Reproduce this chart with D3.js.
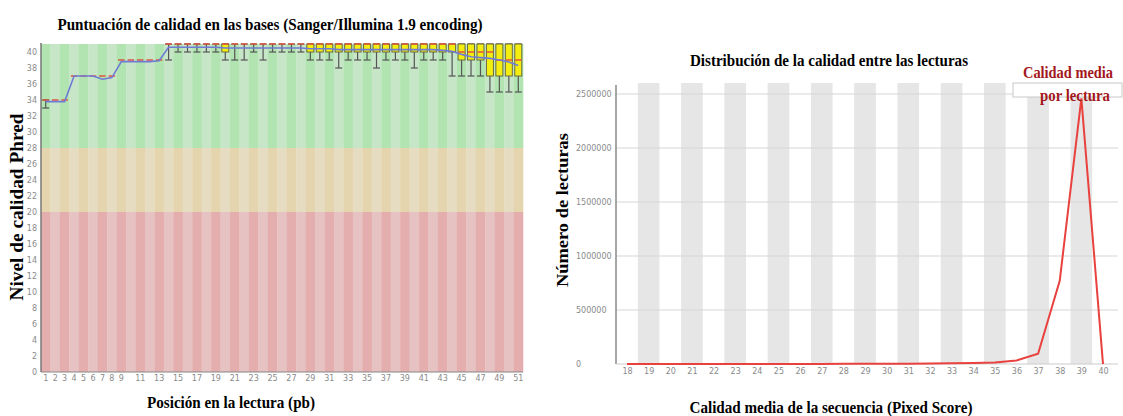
<!DOCTYPE html>
<html>
<head>
<meta charset="utf-8">
<script src="https://cdn.jsdelivr.net/npm/d3@7"></script>
<style>
  body { margin: 0; background: #fff; }
  svg { display: block; }
</style>
</head>
<body>
<svg id="chart" width="1123" height="416"></svg>
<script>
// ---------- Per-base quality (left panel) ----------
const positions = [1,2,3,4,5,6,7,8,9,10,11,12,13,14,15,16,17,18,19,20,21,22,23,24,25,26,
  27,28,29,30,31,32,33,34,35,36,37,38,39,40,41,42,43,44,45,46,47,48,49,50,51];
const positionTicks = [1,2,3,4,5,6,7,8,9,11,13,15,17,19,21,23,25,27,29,31,33,35,37,39,41,43,45,47,49,51];

const meanQ = [33.8,33.8,33.8,37.0,37.0,37.0,36.6,36.8,38.8,38.8,38.8,38.8,38.9,
  40.6,40.6,40.6,40.6,40.6,40.6,
  40.5,40.5,40.5,40.5,40.5,40.5,40.5,40.5,40.5,
  40.4,40.4,40.4,
  40.3,40.3,40.3,40.3,40.3,40.3,40.3,40.3,40.3,40.3,40.3,
  40.2,40.1,39.7,39.4,39.3,39.2,39.0,38.75,38.3];
const medianQ = [34,34,34,37,37,37,37,37,39,39,39,39,39,
  41,41,41,41,41,41,41,41,41,41,41,41,41,41,41,41,41,41,41,41,41,41,41,41,41,41,41,41,41,41,41,
  40,40,40,40,39,39,39];
const lowerQ = [34,34,34,37,37,37,37,37,39,39,39,39,39,
  41,41,41,41,41,41,40,41,41,41,41,41,41,41,41,
  40,40,40,40,40,40,40,40,40,40,40,40,40,40,40,40,
  39,39,39,37,37,37,37];
const upperQ = [34,34,34,37,37,37,37,37,39,39,39,39,39,
  41,41,41,41,41,41,41,41,41,41,41,41,41,41,41,41,41,41,41,41,41,41,41,41,41,41,41,41,41,41,41,
  41,41,41,41,41,41,41];
const p10 = [33,34,34,37,37,37,37,37,39,39,39,39,39,
  39,40,40,40,40,40,39,39,39,40,39,40,40,40,40,
  39,39,39,38,39,39,39,38,39,39,39,38,39,39,39,
  37,37,37,37,35,35,35,35];
const p90 = [34,34,34,37,37,37,37,37,39,39,39,39,39,
  41,41,41,41,41,41,41,41,41,41,41,41,41,41,41,41,41,41,41,41,41,41,41,41,41,41,41,41,41,41,41,
  41,41,41,41,41,41,41];
const phredTicks = [0,2,4,6,8,10,12,14,16,18,20,22,24,26,28,30,32,34,36,38,40];
const zoneBounds = [[28, 41], [20, 28], [0, 20]];
const zoneColors = [["#b1e4b1", "#c7e6c7"], ["#e5d5ae", "#e6dcc2"], ["#e5aeae", "#e6c2c2"]];

// ---------- Per-sequence quality (right panel) ----------
const qualities = [18,19,20,21,22,23,24,25,26,27,28,29,30,31,32,33,34,35,36,37,38,39,40];
const readCounts = [0,0,0,0,100,200,300,500,700,1000,1300,1800,2400,3200,4500,6000,8500,
  14000,32000,95000,770000,2460000,0];
const countTicks = [0,500000,1000000,1500000,2000000,2500000];

const svg = d3.select("#chart");
const serif = "'Liberation Serif', 'Times New Roman', serif";
const tickFont = "'DejaVu Sans', sans-serif";

function boldText(x, y, txt, size, width, color, rotate) {
  const t = svg.append("text")
    .attr("x", x).attr("y", y)
    .attr("text-anchor", "middle")
    .attr("font-family", serif)
    .attr("font-weight", "bold")
    .attr("font-size", size)
    .attr("fill", color || "#000")
    .attr("textLength", width)
    .attr("lengthAdjust", "spacingAndGlyphs")
    .text(txt);
  if (rotate) t.attr("transform", `rotate(-90 ${x} ${y})`);
  return t;
}

// ===== Left panel =====
const L = { left: 41, right: 523, top: 44, bottom: 372 };
const xL = d3.scaleBand().domain(positions).range([L.left, L.right]).padding(0);
const yL = d3.scaleLinear().domain([0, 41]).range([L.bottom, L.top]);
const gL = svg.append("g");

// quality zones, striped per position
zoneBounds.forEach((b, zi) => {
  gL.selectAll(null).data(positions).enter().append("rect")
    .attr("x", d => xL(d))
    .attr("width", xL.bandwidth() + 0.3)
    .attr("y", yL(b[1]))
    .attr("height", yL(b[0]) - yL(b[1]))
    .attr("fill", (d, i) => zoneColors[zi][i % 2]);
});

const bw = 7;
const cx = d => xL(d) + xL.bandwidth() / 2;
const rows = positions.map((p, i) => ({ p, mean: meanQ[i], med: medianQ[i], lo: lowerQ[i], hi: upperQ[i], p10: p10[i], p90: p90[i] }));

// whiskers
const wk = gL.append("g").attr("stroke", "#555").attr("stroke-width", 1.2);
rows.filter(r => r.p10 < r.lo).forEach(r => {
  wk.append("line").attr("x1", cx(r.p)).attr("x2", cx(r.p)).attr("y1", yL(r.lo)).attr("y2", yL(r.p10));
  wk.append("line").attr("x1", cx(r.p) - bw / 2).attr("x2", cx(r.p) + bw / 2).attr("y1", yL(r.p10)).attr("y2", yL(r.p10));
});
rows.filter(r => r.p10 < r.p90).forEach(r => {
  wk.append("line").attr("x1", cx(r.p) - bw / 2).attr("x2", cx(r.p) + bw / 2).attr("y1", yL(r.p90)).attr("y2", yL(r.p90));
  wk.append("line").attr("x1", cx(r.p)).attr("x2", cx(r.p)).attr("y1", yL(r.p90)).attr("y2", yL(r.hi));
});

// boxes (inter-quartile range)
gL.selectAll(null).data(rows.filter(r => r.hi > r.lo)).enter().append("rect")
  .attr("x", d => cx(d.p) - bw / 2).attr("width", bw)
  .attr("y", d => yL(d.hi)).attr("height", d => yL(d.lo) - yL(d.hi))
  .attr("fill", "#f4ee10").attr("stroke", "#6a6a40").attr("stroke-width", 1);

// medians
gL.selectAll(null).data(rows).enter().append("line")
  .attr("x1", d => xL(d.p) + 1.5).attr("x2", d => xL(d.p) + xL.bandwidth() - 1.5)
  .attr("y1", d => yL(d.med)).attr("y2", d => yL(d.med))
  .attr("stroke", "#e0553f").attr("stroke-width", 1.5);

// mean line
gL.append("path").datum(rows)
  .attr("d", d3.line().x(d => cx(d.p)).y(d => yL(d.mean)))
  .attr("fill", "none").attr("stroke", "#6f7bd6").attr("stroke-width", 1.6);

// axes
const axL = gL.append("g").attr("transform", `translate(${L.left},0)`)
  .call(d3.axisLeft(yL).tickValues(phredTicks).tickSize(0).tickPadding(4));
axL.select(".domain").remove();
const axB = gL.append("g").attr("transform", `translate(0,${L.bottom})`)
  .call(d3.axisBottom(xL).tickValues(positionTicks).tickSize(0).tickPadding(3));
axB.select(".domain").remove();
[axL, axB].forEach(a => a.selectAll("text").attr("font-family", tickFont).attr("font-size", 8).attr("fill", "#8a8a8a"));
gL.append("line").attr("x1", L.left).attr("x2", L.left).attr("y1", L.top - 1).attr("y2", L.bottom)
  .attr("stroke", "#777").attr("stroke-width", 1.5);
gL.append("line").attr("x1", L.left).attr("x2", L.right).attr("y1", L.bottom).attr("y2", L.bottom)
  .attr("stroke", "#888").attr("stroke-width", 1);

boldText(270, 30, "Puntuación de calidad en las bases (Sanger/Illumina 1.9 encoding)", 17, 425);
boldText(231, 408, "Posición en la lectura (pb)", 17, 168);
boldText(23, 207, "Nivel de calidad Phred", 18, 187, "#000", true);

// ===== Right panel =====
const R = { left: 616, right: 1118, top: 83, bottom: 364 };
const xR = d3.scalePoint().domain(qualities).range([627, 1103]);
const step = xR.step();
const yR = d3.scaleLinear().domain([0, 2500000]).range([R.bottom, 94]);
const gR = svg.append("g");

// alternating shaded columns
gR.selectAll(null).data(qualities.filter(q => q % 2 === 1)).enter().append("rect")
  .attr("x", d => xR(d) - step / 2).attr("width", step)
  .attr("y", R.top).attr("height", R.bottom - R.top)
  .attr("fill", "#e6e6e6");

// gridlines
gR.selectAll(null).data(countTicks.filter(t => t > 0)).enter().append("line")
  .attr("x1", R.left).attr("x2", R.right)
  .attr("y1", d => yR(d)).attr("y2", d => yR(d))
  .attr("stroke", "#d6d6d6").attr("stroke-width", 1.2);

const ayR = gR.append("g").attr("transform", `translate(${R.left},0)`)
  .call(d3.axisLeft(yR).tickValues(countTicks).tickSize(0).tickFormat(d3.format("d")));
ayR.select(".domain").remove();
ayR.selectAll("text").attr("text-anchor", "start").attr("x", -40);
const axR = gR.append("g").attr("transform", `translate(0,${R.bottom})`)
  .call(d3.axisBottom(xR).tickSize(0).tickPadding(4));
axR.select(".domain").remove();
[ayR, axR].forEach(a => a.selectAll("text").attr("font-family", tickFont).attr("font-size", 8).attr("fill", "#8a8a8a"));

gR.append("line").attr("x1", R.left).attr("x2", R.left).attr("y1", R.top + 2).attr("y2", R.bottom)
  .attr("stroke", "#888").attr("stroke-width", 1.5);
gR.append("line").attr("x1", R.left).attr("x2", R.right).attr("y1", R.bottom).attr("y2", R.bottom)
  .attr("stroke", "#ccc").attr("stroke-width", 1);

// read count line
gR.append("path").datum(qualities.map((q, i) => [q, readCounts[i]]))
  .attr("d", d3.line().x(d => xR(d[0])).y(d => yR(d[1])))
  .attr("fill", "none").attr("stroke", "#e8413e").attr("stroke-width", 2);

// legend box
gR.append("rect").attr("x", 1013).attr("y", R.top).attr("width", 109).attr("height", 14)
  .attr("fill", "#fff").attr("stroke", "#c8c8c8").attr("stroke-width", 1);

boldText(1068, 78, "Calidad media", 16, 90, "#a3181c");
boldText(1075, 101, "por lectura", 16, 70, "#a3181c");

boldText(829, 66, "Distribución de la calidad entre las lecturas", 16, 278);
boldText(831, 413, "Calidad media de la secuencia (Pixed Score)", 16, 283);
boldText(568, 210, "Número de lecturas", 17, 154, "#000", true);
</script>
</body>
</html>
